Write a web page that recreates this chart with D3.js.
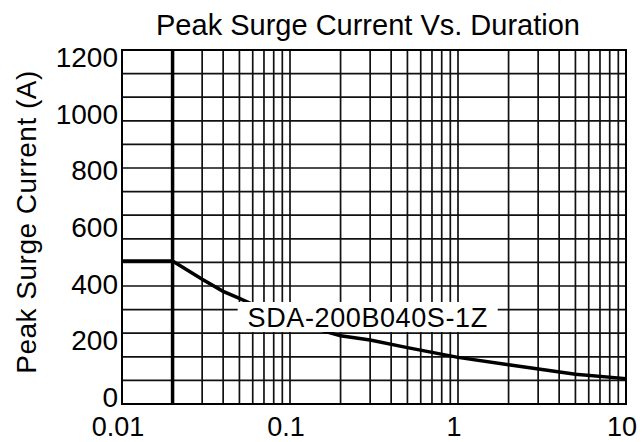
<!DOCTYPE html>
<html>
<head>
<meta charset="utf-8">
<script src="https://cdn.jsdelivr.net/npm/d3@7"></script>
<style>
  body { margin: 0; background: #fff; }
  text { font-family: "Liberation Sans", Arial, sans-serif; fill: #000; }
</style>
</head>
<body>
<script>
// data
const seriesName = "SDA-200B040S-1Z";
const durations = [0.01, 0.02, 0.03, 0.04, 0.05, 0.1, 0.2, 0.3, 0.5, 1, 2, 5, 10];
const currents  = [485, 485, 423, 382, 358, 280, 231, 217, 191, 158, 133, 101, 86];
const markerDuration = [0.02];
const xTicks = [0.01, 0.1, 1, 10];
const xTickLabels = ["0.01", "0.1", "1", "10"];
const yTicks = [0, 200, 400, 600, 800, 1000, 1200];

const width = 642, height = 442;
const margin = {top: 50, right: 16, bottom: 38, left: 122};
const w = width - margin.left - margin.right,
      h = height - margin.top - margin.bottom;

const svg = d3.select("body").append("svg")
    .attr("width", width)
    .attr("height", height);

svg.append("rect").attr("width", width).attr("height", height).attr("fill", "#fff");

const g = svg.append("g")
    .attr("transform", "translate(" + margin.left + "," + margin.top + ")");

const x = d3.scaleLog().domain([0.01, 10]).range([0, w]);
const y = d3.scaleLinear().domain([0, 1200]).range([h, 0]);
// tick labels in the original sit on a slightly squeezed ladder
const yLab = d3.scaleLinear().domain([0, 1200]).range([h - 7, 7]);

// grid
g.append("g").selectAll("line")
    .data(x.ticks())
    .join("line")
    .attr("x1", d => x(d)).attr("x2", d => x(d))
    .attr("y1", 0).attr("y2", h)
    .attr("stroke", "#111").attr("stroke-width", 1.7);

g.append("g").selectAll("line")
    .data(d3.range(0, 1201, 80))
    .join("line")
    .attr("x1", 0).attr("x2", w)
    .attr("y1", d => y(d)).attr("y2", d => y(d))
    .attr("stroke", "#111").attr("stroke-width", 1.7);

// frame
g.append("rect")
    .attr("width", w).attr("height", h)
    .attr("fill", "none").attr("stroke", "#000").attr("stroke-width", 2);

// vertical marker at rated duration
g.selectAll(".marker")
    .data(markerDuration)
    .join("line")
    .attr("class", "marker")
    .attr("x1", d => x(d)).attr("x2", d => x(d))
    .attr("y1", 0).attr("y2", h)
    .attr("stroke", "#000").attr("stroke-width", 3.5);

// curve
const data = durations.map((d, i) => ({t: d, a: currents[i]}));
g.append("path")
    .datum(data)
    .attr("fill", "none")
    .attr("stroke", "#000")
    .attr("stroke-width", 3.5)
    .attr("d", d3.line().x(d => x(d.t)).y(d => y(d.a)));

// series label with white box
const labelAt = [0.29, 295];
const lab = g.append("g")
    .attr("transform", "translate(" + x(labelAt[0]) + "," + y(labelAt[1]) + ")");
lab.append("rect")
    .attr("x", -130).attr("y", -15).attr("width", 260).attr("height", 30)
    .attr("fill", "#fff");
lab.append("text")
    .attr("text-anchor", "middle")
    .attr("dy", "0.36em")
    .attr("font-size", 27)
    .attr("letter-spacing", 0.6)
    .text(seriesName);

// y tick labels
g.append("g").selectAll("text")
    .data(yTicks)
    .join("text")
    .attr("x", -4)
    .attr("y", d => yLab(d))
    .attr("dy", "0.36em")
    .attr("text-anchor", "end")
    .attr("font-size", 28)
    .text(d => d);

// x tick labels
g.append("g").selectAll("text")
    .data(xTicks)
    .join("text")
    .attr("x", (d, i) => x(d) - 4)
    .attr("y", h + 32)
    .attr("text-anchor", "middle")
    .attr("font-size", 27)
    .text((d, i) => xTickLabels[i]);

// title
svg.append("text")
    .attr("x", margin.left + w / 2 - 6)
    .attr("y", 35)
    .attr("text-anchor", "middle")
    .attr("font-size", 29)
    .text("Peak Surge Current Vs. Duration");

// y axis title
svg.append("text")
    .attr("transform", "translate(36," + 222 + ") rotate(-90)")
    .attr("text-anchor", "middle")
    .attr("font-size", 28)
    .attr("letter-spacing", 0.5)
    .text("Peak Surge Current (A)");
</script>
</body>
</html>
